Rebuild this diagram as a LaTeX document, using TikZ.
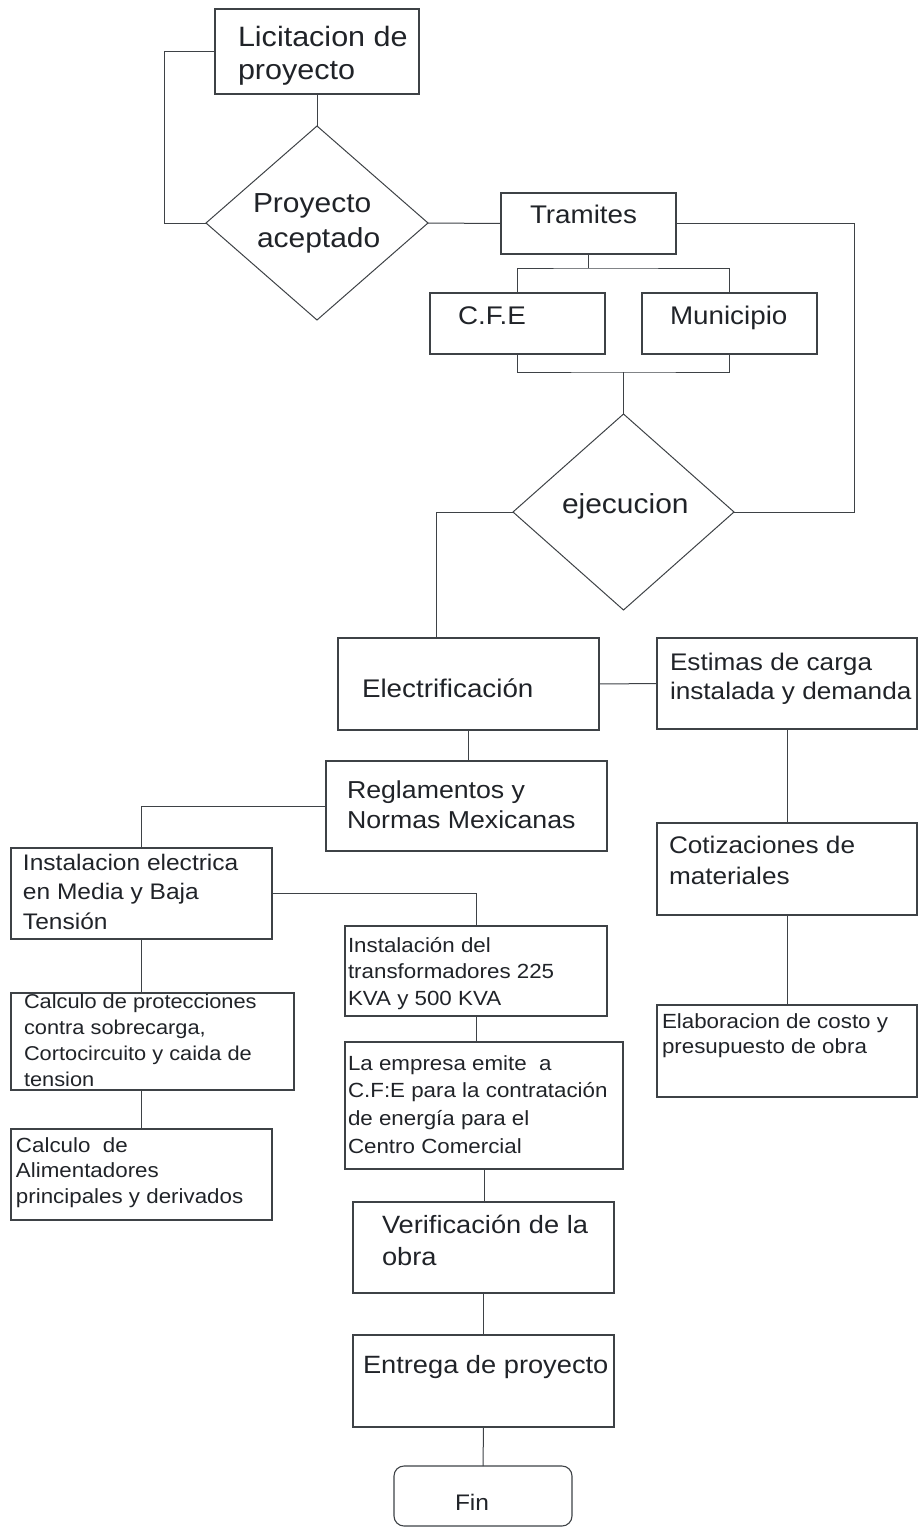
\documentclass[tikz,border=0pt]{standalone}
\usepackage{fontspec}
\setmainfont{Liberation Sans}[FakeStretch=1.09]
\usetikzlibrary{shapes.geometric}

\definecolor{linecol}{RGB}{62,66,70}
\definecolor{inkcol}{RGB}{32,35,40}

\tikzset{
  box/.style={draw=linecol, line width=1.1pt, inner sep=0pt, outer sep=0pt},
  decision/.style={diamond, draw=linecol, line width=1pt, inner sep=0pt, outer sep=0pt},
  wire/.style={draw=linecol, line width=1pt},
  lbl/.style={inner sep=0pt, outer sep=0pt, text=inkcol, anchor=base west},
}

% rectangle given by its corners: [style]{name}{x1}{y1}{x2}{y2}
\newcommand\boxnode[6][]{%
  \node[box,#1, minimum width={#5-#3}, minimum height={#6-#4}] (#2)
    at ({(#3+#5)/2},{(#4+#6)/2}) {};}

% left-aligned lines of text: {name}{x}{first baseline}{line skip}{size}{lines}
\newcommand\textlines[6]{%
  \foreach \tline [count=\k from 1] in {#6} {%
    \node[lbl, font=\fontsize{#5}{#5}\selectfont] (#1-\k)
      at (#2,{#3+(\k-1)*#4}) {\tline};}}

\begin{document}
\begin{tikzpicture}[x=1pt,y=-1pt]
\useasboundingbox (0,0) rectangle (922,1528);

% boxes and decisions
\boxnode{lic}{215}{9}{419}{94}
\node[decision, minimum width=222pt, minimum height=194pt] (pa) at (317,223) {};
\boxnode{tram}{501}{193}{676}{254}
\boxnode{cfe}{430}{293}{605}{354}
\boxnode{mun}{642}{293}{817}{354}
\node[decision, minimum width=221pt, minimum height=196pt] (ej) at (623.5,512) {};
\boxnode{elec}{338}{638}{599}{730}
\boxnode{est}{657}{638}{917}{729}
\boxnode{reg}{326}{761}{607}{851}
\boxnode{cot}{657}{823}{917}{915}
\boxnode{inst}{11}{848}{272}{939}
\boxnode{trans}{345}{926}{607}{1016}
\boxnode{calcp}{11}{993}{294}{1090}
\boxnode{emp}{345}{1042}{623}{1169}
\boxnode{calca}{11}{1129}{272}{1220}
\boxnode{elab}{657}{1005}{917}{1097}
\boxnode{ver}{353}{1202}{614}{1293}
\boxnode{ent}{353}{1335}{614}{1427}
\boxnode[rounded corners=10pt]{fin}{394}{1466}{572}{1526}

% connectors
\draw[wire] (lic.south) -- (pa.north);
\draw[wire] (lic.west) -- ++(-51,0) |- (pa.west);
\draw[wire] (pa.east) -- (tram.west);
\draw[wire] (tram.east) -- ++(178,0) |- (ej.east);
\draw[wire] (tram.south) -- ++(0,14) coordinate (split);
\draw[wire] (cfe.north) |- (split) -| (mun.north);
\coordinate (join) at ([yshift=42pt]ej.north);
\draw[wire] (cfe.south) |- (join) -| (mun.south);
\draw[wire] (join) -- (ej.north);
\draw[wire] (ej.west) -| ([xshift=-32.5pt]elec.north);
\draw[wire] (elec.east) -- (est.west);
\draw[wire] (elec.south) -- (elec.south |- reg.north);
\draw[wire] (reg.west) -| (inst.north);
\draw[wire] (est.south) -- (cot.north);
\draw[wire] (cot.south) -- (elab.north);
\draw[wire] (inst.east) -| (trans.north);
\draw[wire] (inst.south) -- (inst.south |- calcp.north);
\draw[wire] (calca.north) -- (calca.north |- calcp.south);
\draw[wire] (trans.south) -- (trans.south |- emp.north);
\draw[wire] (emp.south) -- (emp.south |- ver.north);
\draw[wire] (ver.south) -- (ent.north);
\draw[wire] (ent.south) -- (fin.north);

% texts
\textlines{lic}{238}{47}{32}{28}{Licitacion de,proyecto}
\node[lbl, font=\fontsize{27.5}{27.5}\selectfont] (pa-1) at (253,212.5) {Proyecto};
\node[lbl, font=\fontsize{27.5}{27.5}\selectfont] (pa-2) at (257,247) {aceptado};
\textlines{tram}{530}{223}{0}{25.5}{Tramites}
\textlines{cfe}{458}{324}{0}{25.5}{C.F.E}
\textlines{mun}{670}{324}{0}{25.5}{Municipio}
\textlines{ej}{562}{513}{0}{27.5}{ejecucion}
\textlines{elec}{362}{697}{0}{25.5}{Electrificación}
\textlines{est}{670}{670}{29}{24}{Estimas de carga,instalada y demanda}
\textlines{reg}{347}{798}{30}{24.5}{Reglamentos y,Normas Mexicanas}
\textlines{cot}{669}{853}{31}{24}{Cotizaciones de,materiales}
\textlines{inst}{23}{870}{29.5}{22.5}{Instalacion electrica,en Media y Baja,Tensión}
\textlines{calcp}{24}{1008}{26}{20}{Calculo de protecciones,{contra sobrecarga,},Cortocircuito y caida de,tension}
\textlines{calca}{16}{1152}{25.5}{20.5}{Calculo~~de,Alimentadores,principales y derivados}
\textlines{trans}{348}{952}{26.5}{20.5}{Instalación del,transformadores 225,KVA y 500 KVA}
\textlines{emp}{348}{1070}{27.7}{20.5}{La empresa emite~~a,C.F:E para la contratación,de energía para el,Centro Comercial}
\textlines{elab}{662}{1028}{25}{20.5}{Elaboracion de costo y,presupuesto de obra}
\textlines{ver}{382}{1233}{32}{25}{Verificación de la,obra}
\textlines{ent}{363}{1373}{0}{25}{Entrega de proyecto}
\textlines{fin}{455}{1510}{0}{22.5}{Fin}
\end{tikzpicture}
\end{document}
